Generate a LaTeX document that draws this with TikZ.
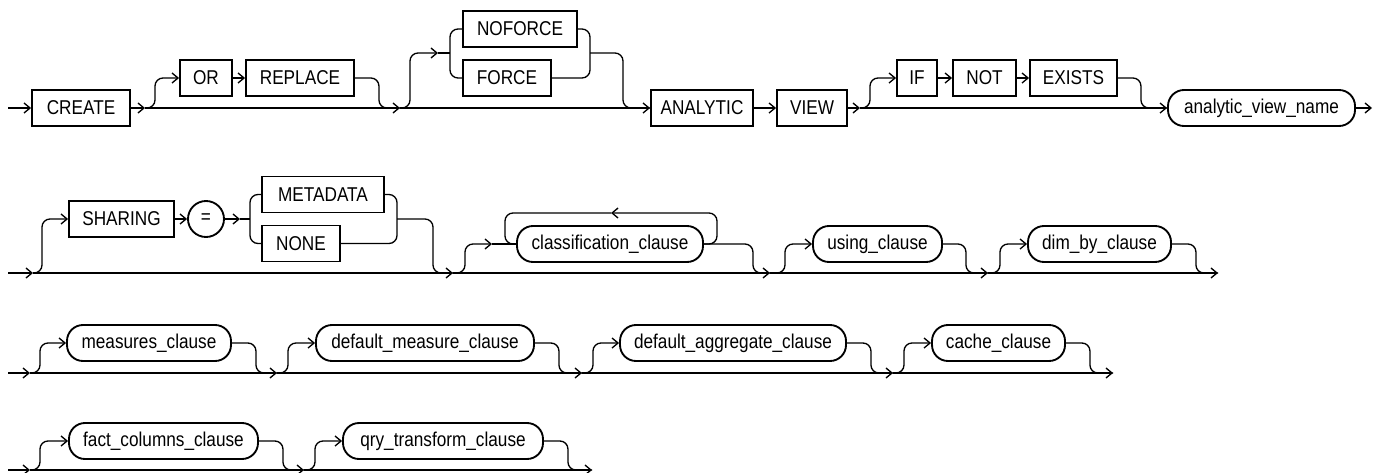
\documentclass[tikz,border=0pt]{standalone}
\usepackage{fontspec}
\setmainfont[FakeStretch=0.86]{Liberation Sans}
\usepackage{tikz}
\usetikzlibrary{arrows.meta}

\begin{document}
\begin{tikzpicture}[x=0.75pt,y=0.75pt,yscale=-1,
  kw/.style={draw, line width=1.4pt, rectangle, inner sep=0pt, minimum height=27pt, font=\fontsize{15}{17}\selectfont},
  nt/.style={kw, rounded corners=12pt},
  wd/.style={minimum width=#1*0.75pt},
  ln/.style={line width=1pt, rounded corners=6pt},
  ar/.style={ln, -{Straight Barb[length=4.5pt,width=7.5pt]}}]
\useasboundingbox (0,0) rectangle (1376,472);

%Row 1: CREATE ... analytic_view_name
\coordinate (st1) at (8,108);
\coordinate (s1) at (145,108);
\coordinate (m1) at (400,108);
\coordinate (fk1) at (438,53);
\coordinate (fl1) at (450,53);
\coordinate (fr1) at (590,53);
\coordinate (s2) at (860,108);
\coordinate (e1) at (1372,108);
%Shape: Keyword boxes
\node[kw,wd=98] (create) at (81,108) {CREATE};
\node[kw,wd=52] (or) at (206,78) {OR};
\node[kw,wd=108] (replace) at (300,78) {REPLACE};
\node[kw,wd=114] (noforce) at (520,29) {NOFORCE};
\node[kw,wd=88] (force) at (507,78) {FORCE};
\node[kw,wd=102] (analytic) at (702,108) {ANALYTIC};
\node[kw,wd=70] (view) at (812,108) {VIEW};
\node[kw,wd=40] (if) at (917,78) {IF};
\node[kw,wd=63] (not) at (984.5,78) {NOT};
\node[kw,wd=87] (exists) at (1073.5,78) {EXISTS};
%Shape: Rounded box
\node[nt,wd=187] (avname) at (1261.5,108) {analytic\_view\_name};
%Straight Lines
\draw[ar] (st1) -- (create.west);
\draw[ar] (create.east) -- (s1);
\draw[ar] (s1) -- (m1);
\draw[ar] (s1) -- ++(10,0) |- (or.west);
\draw[ar] (or.east) -- (replace.west);
\draw[ln] (replace.east) -- ++(24,0) |- (m1);
\draw[ar] (m1) -- ++(10,0) |- (fk1);
\draw[ln] (fk1) -- (fl1);
\draw[ln] (noforce.west) -| (fl1) |- (force.west);
\draw[ln] (noforce.east) -| (fr1) |- (force.east);
\draw[ln] (fr1) -- ++(33,0) |- (analytic.west);
\draw[ar] (m1) -- (analytic.west);
\draw[ar] (analytic.east) -- (view.west);
\draw[ar] (view.east) -- (s2);
\draw[ar] (s2) -- ++(10,0) |- (if.west);
\draw[ar] (if.east) -- (not.west);
\draw[ar] (not.east) -- (exists.west);
\draw[ln] (exists.east) -- ++(23,0) |- (avname.west);
\draw[ar] (s2) -- (avname.west);
\draw[ar] (avname.east) -- (e1);

%Row 2: SHARING ... dim_by_clause
\coordinate (st2) at (8,273);
\coordinate (s3) at (33,273);
\coordinate (fk2) at (240,219);
\coordinate (fl2) at (250,219);
\coordinate (fr2) at (397,219);
\coordinate (m2) at (453,273);
\coordinate (c1) at (492,244);
\coordinate (lpL) at (505,213);
\coordinate (lpM) at (611,213);
\coordinate (lpR) at (717,213);
\coordinate (m3) at (770,273);
\coordinate (m4) at (988,273);
\coordinate (e2) at (1218,273);
%Shape: Keyword boxes
\node[kw,wd=105] (sharing) at (121.5,219) {SHARING};
\node[kw,circle,minimum size=27pt] (eq) at (206,219) {=};
\node[kw,wd=122] (metadata) at (323,194.5) {METADATA};
\node[kw,wd=78] (none) at (301,243.5) {NONE};
%Shape: Rounded boxes
\node[nt,wd=186] (classif) at (610,244) {classification\_clause};
\node[nt,wd=129] (using) at (877.5,244) {using\_clause};
\node[nt,wd=143] (dimby) at (1099.5,244) {dim\_by\_clause};
%Straight Lines
\draw[ar] (st2) -- (s3);
\draw[ar] (s3) -- ++(9,0) |- (sharing.west);
\draw[ar] (sharing.east) -- (eq.west);
\draw[ar] (eq.east) -- (fk2);
\draw[ln] (fk2) -- (fl2);
\draw[ln] (metadata.west) -| (fl2) |- (none.west);
\draw[ln] (metadata.east) -| (fr2) |- (none.east);
\draw[ln] (fr2) -- ++(36,0) |- (m2);
\draw[ar] (s3) -- (m2);
\draw[ar] (m2) -- ++(12,0) |- (c1);
\draw[ln] (c1) -- (classif.west);
\draw[ar] (classif.east) -| (lpR) -- (lpM);
\draw[ln] (lpM) -- (lpL) |- (classif.west);
\draw[ln] (classif.east) -- ++(49,0) |- (m3);
\draw[ar] (m2) -- (m3);
\draw[ar] (m3) -- ++(15,0) |- (using.west);
\draw[ln] (using.east) -- ++(23,0) |- (m4);
\draw[ar] (m3) -- (m4);
\draw[ar] (m4) -- ++(12,0) |- (dimby.west);
\draw[ln] (dimby.east) -- ++(24,0) |- (e2);
\draw[ar] (m4) -- (e2);

%Row 3: measures_clause ... cache_clause
\coordinate (st3) at (8,373);
\coordinate (s5) at (30,373);
\coordinate (m5) at (277,373);
\coordinate (m6) at (582,373);
\coordinate (m7) at (893,373);
\coordinate (e3) at (1113,373);
%Shape: Rounded boxes
\node[nt,wd=164] (measures) at (149,343) {measures\_clause};
\node[nt,wd=218] (defmeas) at (425,343) {default\_measure\_clause};
\node[nt,wd=226] (defagg) at (733,343) {default\_aggregate\_clause};
\node[nt,wd=133] (cache) at (998.5,343) {cache\_clause};
%Straight Lines
\draw[ar] (st3) -- (s5);
\draw[ar] (s5) -- ++(10,0) |- (measures.west);
\draw[ln] (measures.east) -- ++(24,0) |- (m5);
\draw[ar] (s5) -- (m5);
\draw[ar] (m5) -- ++(11,0) |- (defmeas.west);
\draw[ln] (defmeas.east) -- ++(24,0) |- (m6);
\draw[ar] (m5) -- (m6);
\draw[ar] (m6) -- ++(11,0) |- (defagg.west);
\draw[ln] (defagg.east) -- ++(24,0) |- (m7);
\draw[ar] (m6) -- (m7);
\draw[ar] (m7) -- ++(11,0) |- (cache.west);
\draw[ln] (cache.east) -- ++(24,0) |- (e3);
\draw[ar] (m7) -- (e3);

%Row 4: fact_columns_clause, qry_transform_clause
\coordinate (st4) at (8,470);
\coordinate (s6) at (30,470);
\coordinate (m8) at (304,470);
\coordinate (e4) at (592,470);
%Shape: Rounded boxes
\node[nt,wd=189] (factcols) at (163.5,441) {fact\_columns\_clause};
\node[nt,wd=200] (qrytr) at (443,441) {qry\_transform\_clause};
%Straight Lines
\draw[ar] (st4) -- (s6);
\draw[ar] (s6) -- ++(10,0) |- (factcols.west);
\draw[ln] (factcols.east) -- ++(24,0) |- (m8);
\draw[ar] (s6) -- (m8);
\draw[ar] (m8) -- ++(11,0) |- (qrytr.west);
\draw[ln] (qrytr.east) -- ++(24,0) |- (e4);
\draw[ar] (m8) -- (e4);

\end{tikzpicture}
\end{document}
